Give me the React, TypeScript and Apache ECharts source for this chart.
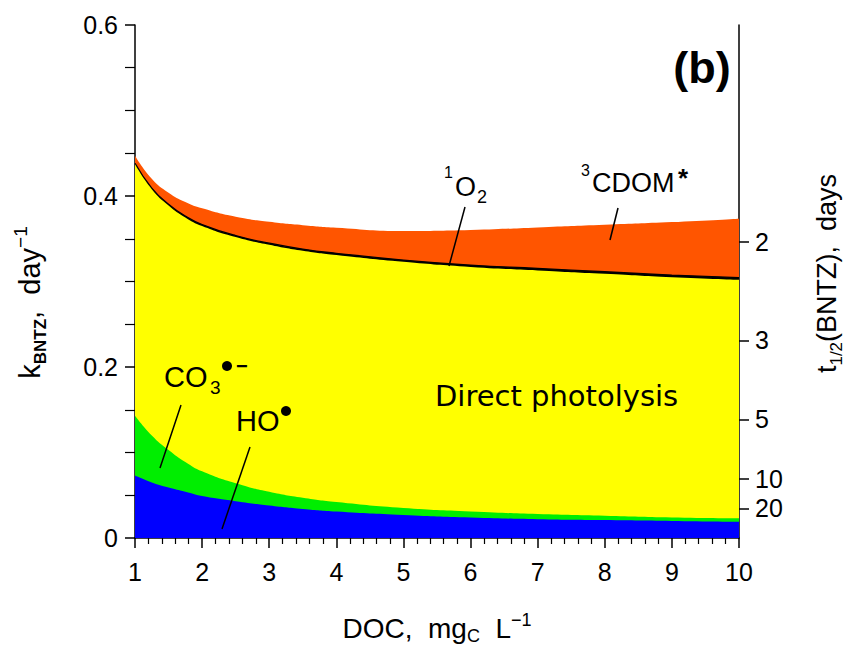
import React, { useEffect, useRef } from 'react';
import * as echarts from 'echarts';

// DOC concentration, mgC/L
const DOC = [1, 1.25, 1.5, 1.75, 2, 2.5, 3, 3.5, 4, 5, 6, 7, 8, 9, 10];
// Contributions to k_BNTZ (day^-1), stacked bottom to top
const kHO = [0.073, 0.065, 0.059, 0.054, 0.049, 0.043, 0.038, 0.034, 0.031, 0.027, 0.024, 0.022, 0.021, 0.02, 0.019];
const kCO3 = [0.07, 0.055, 0.044, 0.035, 0.029, 0.021, 0.016, 0.013, 0.011, 0.008, 0.007, 0.006, 0.005, 0.004, 0.004];
const kDirect = [0.294, 0.288, 0.286, 0.286, 0.287, 0.288, 0.289, 0.289, 0.289, 0.288, 0.286, 0.285, 0.283, 0.281, 0.279];
const k1O2 = [0.0012, 0.0013, 0.0014, 0.0015, 0.0016, 0.0017, 0.0018, 0.0019, 0.002, 0.0021, 0.0022, 0.0023, 0.0024, 0.0025, 0.0025];
const k3CDOM = [0.009, 0.011, 0.0135, 0.0165, 0.019, 0.022, 0.025, 0.028, 0.03, 0.034, 0.041, 0.048, 0.055, 0.062, 0.069];

// Axis ticks
const K_TICKS = [0, 0.2, 0.4, 0.6];
const HALF_LIFE_DAYS = [2, 3, 5, 10, 20];
const X_TICKS = [1, 2, 3, 4, 5, 6, 7, 8, 9, 10];

const FONT = '"Liberation Sans", Arial, Helvetica, sans-serif';

export default function App() {
  const ref = useRef<HTMLDivElement>(null);

  useEffect(() => {
    const chart = echarts.init(ref.current!, null, { renderer: 'svg' });

    // cumulative stack tops (bottom → top)
    const layers = [kHO, kCO3, kDirect, k1O2, k3CDOM];
    const cum: number[][] = [];
    layers.forEach((arr, li) => {
      cum.push(arr.map((v, i) => v + (li > 0 ? cum[li - 1][i] : 0)));
    });

    const area = (name: string, tops: number[], color: string, z: number, line?: boolean) => ({
      type: 'line',
      name,
      data: DOC.map((x, i) => [x, tops[i]]),
      smooth: 0.5,
      showSymbol: false,
      symbol: 'none',
      silent: true,
      z,
      lineStyle: line ? { color: '#000', width: 1.3 } : { width: 0, opacity: 0 },
      itemStyle: { color },
      areaStyle: { color, opacity: 1, origin: 'start' },
    });

    const txt = (text: string, x: number, y: number, size: number, extra: any = {}) => ({
      type: 'text',
      x,
      y,
      z: 100,
      style: {
        text,
        fontSize: size,
        fontFamily: FONT,
        fill: '#000',
        align: 'left',
        verticalAlign: 'middle',
        ...extra,
      },
    });
    const seg = (x1: number, y1: number, x2: number, y2: number, w = 1.5) => ({
      type: 'line',
      z: 100,
      shape: { x1, y1, x2, y2 },
      style: { stroke: '#000', lineWidth: w },
    });
    const dot = (cx: number, cy: number) => ({
      type: 'circle',
      z: 100,
      shape: { cx, cy, r: 5 },
      style: { fill: '#000' },
    });

    const option: any = {
      animation: false,
      backgroundColor: '#fff',
      grid: { left: 135, right: 104, top: 25, bottom: 111, containLabel: false },
      xAxis: {
        type: 'value',
        min: 1,
        max: 10,
        interval: 1,
        name: 'DOC,  mg{sub|C}  L{sup|−1}',
        nameLocation: 'middle',
        nameGap: 73,
        nameTextStyle: {
          fontSize: 28,
          fontFamily: FONT,
          color: '#000',
          lineHeight: 34,
          rich: {
            sub: { fontSize: 18, fontFamily: FONT, color: '#000', verticalAlign: 'bottom', lineHeight: 34 },
            sup: { fontSize: 18, fontFamily: FONT, color: '#000', verticalAlign: 'top', lineHeight: 34 },
          },
        },
        axisLine: { show: true, lineStyle: { color: '#000', width: 1.5 } },
        axisTick: { show: true, length: 10, lineStyle: { color: '#000', width: 1.5 } },
        minorTick: { show: true, splitNumber: 5, length: 6, lineStyle: { color: '#000', width: 1.2 } },
        axisLabel: {
          color: '#000',
          fontSize: 25,
          fontFamily: FONT,
          margin: 21,
          customValues: X_TICKS,
        },
        splitLine: { show: false },
      },
      yAxis: [
        {
          type: 'value',
          min: 0,
          max: 0.6,
          interval: 0.2,
          position: 'left',
          name: 'k{sub|BNTZ},  day{sup|−1}',
          nameLocation: 'middle',
          nameRotate: 90,
          nameGap: 86,
          nameTextStyle: {
            fontSize: 29,
            fontFamily: FONT,
            color: '#000',
            lineHeight: 38,
            padding: [0, 42, 0, 0],
            rich: {
              sub: { fontSize: 17, fontWeight: 'bold', fontFamily: FONT, color: '#000', verticalAlign: 'bottom', lineHeight: 38 },
              sup: { fontSize: 19, fontFamily: FONT, color: '#000', verticalAlign: 'top', lineHeight: 38 },
            },
          },
          axisLine: { show: true, lineStyle: { color: '#000', width: 1.5 } },
          axisTick: { show: true, length: 10, lineStyle: { color: '#000', width: 1.5 } },
          minorTick: { show: true, splitNumber: 4, length: 10, lineStyle: { color: '#000', width: 1.2 } },
          axisLabel: {
            color: '#000',
            fontSize: 25,
            fontFamily: FONT,
            margin: 17,
            customValues: K_TICKS,
            formatter: (v: number) => (v === 0 ? '0' : v.toFixed(1)),
          },
          splitLine: { show: false },
        },
        {
          type: 'value',
          min: 0,
          max: 0.6,
          position: 'right',
          name: 't{sub|1/2}(BNTZ),  days',
          nameLocation: 'middle',
          nameRotate: 90,
          nameGap: 70,
          nameTextStyle: {
            fontSize: 27,
            fontFamily: FONT,
            color: '#000',
            lineHeight: 36,
            padding: [0, 0, 0, 16],
            rich: {
              sub: { fontSize: 17, fontFamily: FONT, color: '#000', verticalAlign: 'bottom', lineHeight: 36 },
            },
          },
          axisLine: { show: true, lineStyle: { color: '#000', width: 1.5 } },
          axisTick: {
            show: true,
            length: 10,
            lineStyle: { color: '#000', width: 1.5 },
            customValues: HALF_LIFE_DAYS.map((t) => Math.LN2 / t),
          },
          axisLabel: {
            color: '#000',
            fontSize: 25,
            fontFamily: FONT,
            margin: 16,
            customValues: HALF_LIFE_DAYS.map((t) => Math.LN2 / t),
            formatter: (v: number) => String(Math.round(Math.LN2 / v)),
          },
          splitLine: { show: false },
        },
      ],
      series: [
        area('3CDOM*', cum[4], '#ff5500', 2),
        area('1O2', cum[3], '#000000', 3, true),
        area('Direct photolysis', cum[2], '#ffff00', 4),
        area('CO3•−', cum[1], '#00ee00', 5),
        area('HO•', cum[0], '#0000ff', 6),
      ],
      graphic: [
        txt('(b)', 702, 67, 45, { fontWeight: 'bold', align: 'center' }),
        // 1O2
        txt('1', 444, 172, 16),
        txt('O', 455, 187, 27),
        txt('2', 477, 197, 18),
        seg(465, 207, 449, 266),
        // 3CDOM*
        txt('3', 581, 170, 16),
        txt('CDOM', 592, 183, 27),
        txt('*', 678, 178, 26, { fontWeight: 'bold' }),
        seg(618, 208, 610, 240),
        // CO3•−
        txt('CO', 164, 377, 29),
        txt('3', 210, 387, 19),
        dot(227, 366),
        txt('−', 236, 366, 20, { fontWeight: 'bold' }),
        seg(181, 405, 160, 468),
        // HO•
        txt('HO', 236, 421, 29),
        dot(286, 411),
        seg(250, 447, 222, 529),
        // Direct photolysis
        txt('Direct photolysis', 435, 396, 29, { fontFamily: '"DejaVu Sans", sans-serif' }),
      ],
    };

    chart.setOption(option);
    return () => chart.dispose();
  }, []);

  return <div ref={ref} style={{ position: 'fixed', left: 0, top: 0, width: 853, height: 650 }} />;
}
